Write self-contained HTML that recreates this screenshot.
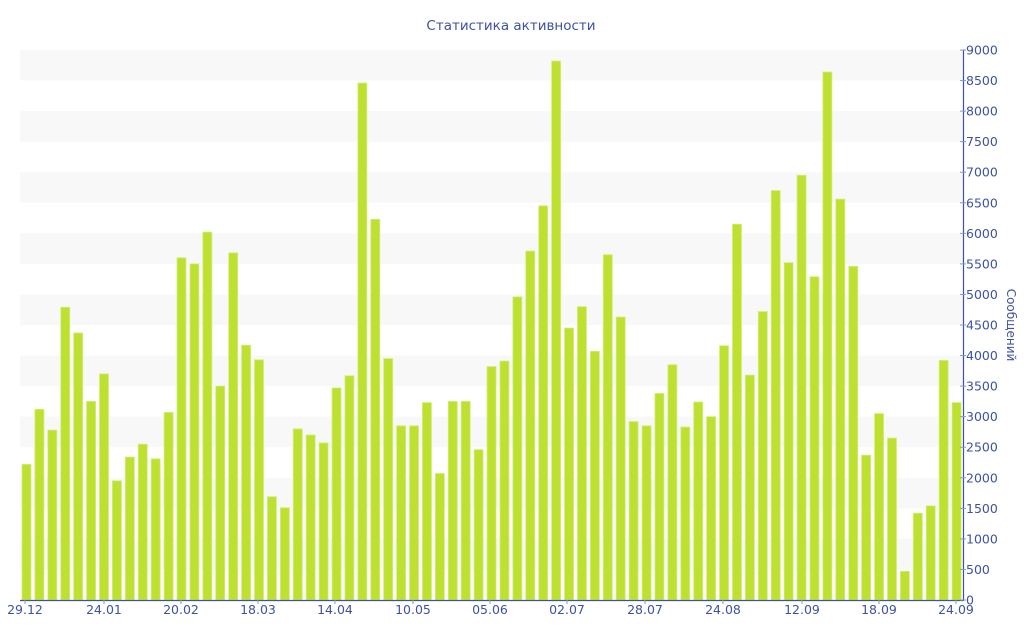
<!DOCTYPE html>
<html><head><meta charset="utf-8"><style>
html,body{margin:0;padding:0;background:#fff;}
svg{display:block;font-family:"DejaVu Sans","Liberation Sans",sans-serif;}
</style></head><body>
<svg id="c" width="1024" height="640" xmlns="http://www.w3.org/2000/svg">
<text x="511" y="30" text-anchor="middle" font-size="13.5" fill="#3e52a3">Статистика активности</text>
<g id="bands"></g>
<g id="bars"></g>
<g id="axis"></g>
<text transform="translate(1007,325) rotate(90)" text-anchor="middle" font-size="12" fill="#3e52a3">Сообщений</text>
</svg>
<script>
var ns="http://www.w3.org/2000/svg";
function el(p,t,a,txt){var e=document.createElementNS(ns,t);for(var k in a)e.setAttribute(k,a[k]);if(txt!=null)e.textContent=txt;document.getElementById(p).appendChild(e);}
var y0=600,sc=550/9000,L=20,R=963;
for(var v=500;v<9000;v+=1000){el("bands","rect",{x:L,y:y0-(v+500)*sc,width:R-L,height:500*sc,fill:"#f8f8f8"});}
var d=[2220,3120,2780,4790,4370,3250,3700,1950,2340,2550,2310,3070,5600,5500,6020,3500,5680,4170,3930,1690,1510,2800,2700,2570,3470,3670,8460,6230,3950,2850,2850,3230,2070,3250,3250,2460,3820,3910,4960,5710,6450,8820,4450,4800,4070,5650,4630,2920,2850,3380,3850,2830,3240,3000,4160,6150,3680,4720,6700,5520,6950,5290,8640,6560,5460,2370,3050,2650,470,1420,1540,3920,3230];
var p=(R-L)/d.length;
d.forEach(function(v,i){var h=v*sc;el("bars","rect",{x:L+i*p+2,y:y0-h,width:9,height:h,fill:"#bde031",stroke:"#d4ee78","stroke-width":0.8});});
el("axis","line",{x1:L,y1:600.5,x2:R+1,y2:600.5,stroke:"#3e52a3","stroke-width":1.2});
el("axis","line",{x1:963.5,y1:50,x2:963.5,y2:601,stroke:"#3e52a3","stroke-width":1.2});
for(var v=0;v<=9000;v+=100){var yy=y0-v*sc;if(v%500==0||v%250==0){el("axis","line",{x1:960,y1:yy,x2:(v%500==0?966:963.5),y2:yy,stroke:"#8a95c4","stroke-width":1});}
 if(v%500==0)el("axis","text",{x:966,y:yy+4.5,"font-size":12.5,fill:"#3e52a3"},String(v));}
var xl=[[25,"29.12"],[104,"24.01"],[181,"20.02"],[258,"18.03"],[335,"14.04"],[413,"10.05"],[490,"05.06"],[567,"02.07"],[645,"28.07"],[723,"24.08"],[802,"12.09"],[879,"18.09"],[956,"24.09"]];
xl.forEach(function(a){el("axis","line",{x1:a[0],y1:600,x2:a[0],y2:604,stroke:"#8a95c4"});el("axis","text",{x:a[0],y:614,"text-anchor":"middle","font-size":12.5,fill:"#3e52a3"},a[1]);});
</script>
</body></html>
